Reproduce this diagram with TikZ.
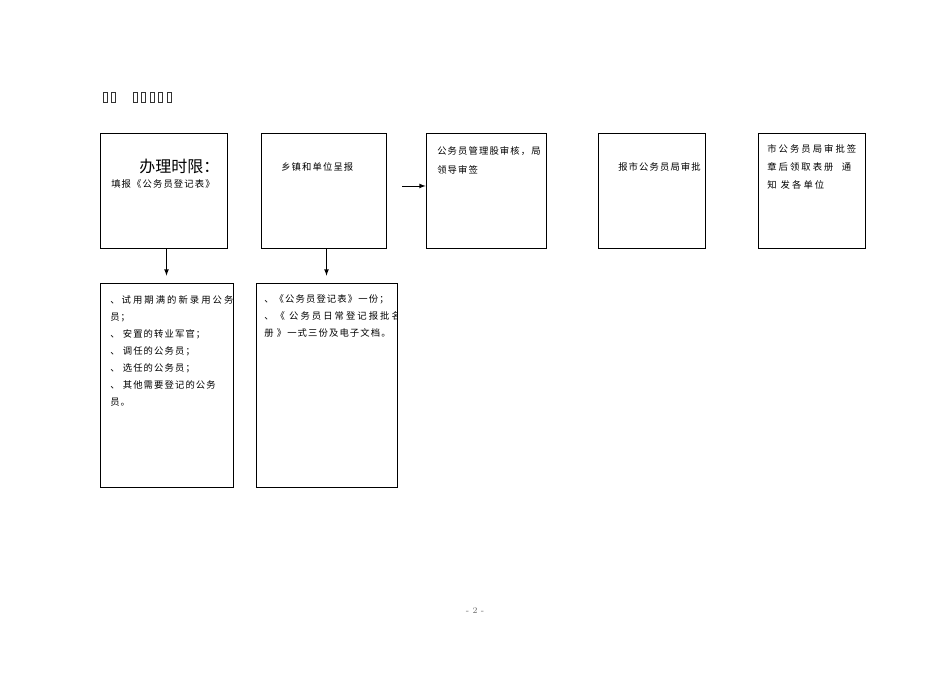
\documentclass[tikz,border=0pt]{standalone}
\usepackage{fontspec}
\newfontfamily\cjk[LetterSpace=12]{Noto Sans CJK SC}
\newfontfamily\cjkwide[LetterSpace=22]{Noto Sans CJK SC}
\newfontfamily\cjkbig{Noto Sans CJK SC}

\begin{document}
\begin{tikzpicture}[x=0.75pt, y=-0.75pt, >=latex,
  box/.style={draw, line width=0.6pt, inner sep=0pt},
  txt/.style={inner sep=0pt, anchor=north west, align=left,
    font=\cjk\fontsize{7pt}{12.75pt}\selectfont}]

  \useasboundingbox (0,0) rectangle (950,672);

  % heading, printed as empty glyph boxes
  \foreach \x in {103,111,133,141.5,150,158.5,167}
    \draw[line width=0.3pt, black!80] (\x,92) rectangle +(4,10);

  \node (1) [box, minimum width=95.25pt, minimum height=86.25pt] at (163.5,190.5) {};
  \node (2) [box, minimum width=93.75pt, minimum height=86.25pt] at (323.5,190.5) {};
  \node (3) [box, minimum width=90pt, minimum height=86.25pt] at (486,190.5) {};
  \node (4) [box, minimum width=80.25pt, minimum height=86.25pt] at (651.5,190.5) {};
  \node (5) [box, minimum width=80.25pt, minimum height=86.25pt] at (811.5,190.5) {};
  \node (6) [box, minimum width=99.75pt, minimum height=153pt] at (166.5,385) {};
  \node (7) [box, minimum width=105.75pt, minimum height=153pt] at (326.5,385) {};

  \node (t1a) [txt, anchor=west, font=\cjkbig\fontsize{12pt}{14pt}\selectfont] at (139,166) {办理时限：};
  \node (t1b) [txt, anchor=west] at (111,184) {填报《公务员登记表》};
  \node (t2) [txt, anchor=west] at (281,167) {乡镇和单位呈报};
  \node (t3) [txt, font=\cjk\fontsize{7pt}{14.25pt}\selectfont] at (437,146) {公务员管理股审核，局\\领导审签};
  \node (t4) [txt, anchor=west] at (618,167) {报市公务员局审批};
  \node (t5) [txt, font=\cjkwide\fontsize{7pt}{13.5pt}\selectfont] at (767,144)
    {市公务员局审批签\\章后领取表册\ \ 通\\知 发各单位};

  \begin{scope}
    \clip (6.north west) rectangle (6.south east);
    \node (t6) [txt] at (110,295)
      {{\cjkwide 、试用期满的新录用公务}\\员；\\、 安置的转业军官；\\、 调任的公务员；\\、 选任的公务员；\\、 其他需要登记的公务\\员。};
  \end{scope}
  \begin{scope}
    \clip (7.north west) rectangle (7.south east);
    \node (t7) [txt, font=\cjk\fontsize{7pt}{13pt}\selectfont] at (264,294)
      {、《公务员登记表》一份；\\{\cjkwide 、《 公务员日常登记报批名}\\册 》一式三份及电子文档。};
  \end{scope}

  \draw[->, line width=0.6pt, shorten >=5.25pt] (6.north |- 1.south) -- (6.north);
  \draw[->, line width=0.6pt, shorten >=5.25pt] (7.north |- 2.south) -- (7.north);
  \draw[->, line width=0.6pt, shorten <=12pt] ([yshift=3.4pt]2.east) -- ([yshift=3.4pt]3.west);

  \node (pg) [inner sep=0pt, text=black!60, font=\fontsize{6.5pt}{7pt}\selectfont] at (475,611) {- 2 -};

\end{tikzpicture}
\end{document}
